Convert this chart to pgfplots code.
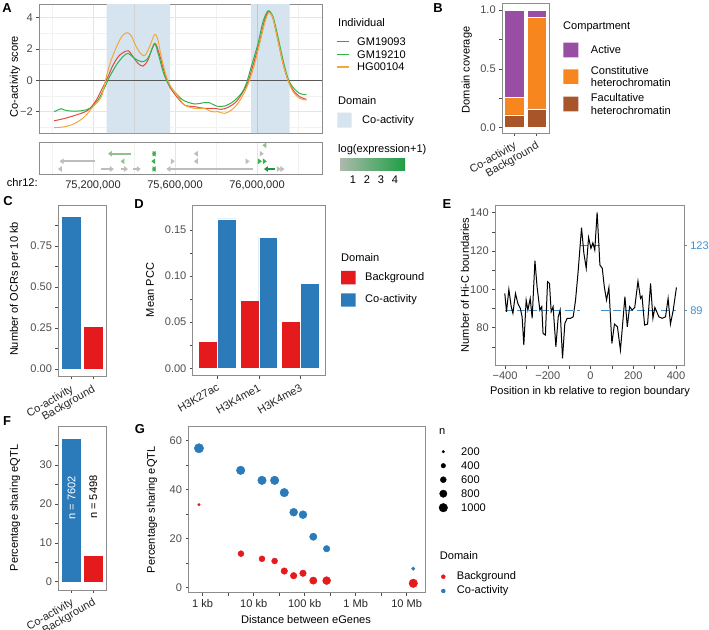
\documentclass[border=0pt]{standalone}
\usepackage{pgfplots}
\pgfplotsset{compat=1.18}
\usepackage{fontspec}
\setmainfont{Liberation Sans}
\usetikzlibrary{arrows.meta}
\definecolor{cred}{HTML}{E41A1C}
\definecolor{cblue}{HTML}{2B7BBA}
\definecolor{lred}{HTML}{E8473E}
\definecolor{lgreen}{HTML}{2EB34B}
\definecolor{lorange}{HTML}{F2A93B}
\definecolor{dshade}{RGB}{214,228,240}
\definecolor{cpurple}{HTML}{984EA3}
\definecolor{corange}{HTML}{F7861E}
\definecolor{cbrown}{HTML}{A8552A}
\definecolor{ggray}{HTML}{BDBDBD}
\definecolor{ggreenl}{HTML}{90C290}
\definecolor{ggreen}{HTML}{3DB04F}
\definecolor{ggreend}{HTML}{1E9640}
\definecolor{eblue}{HTML}{3D8FD1}
\definecolor{axgray}{HTML}{8C8C8C}
\definecolor{tkgray}{HTML}{4D4D4D}
\definecolor{lblgray}{HTML}{4D4D4D}
\newcommand\fs{\fontsize{11.1}{12.3}\selectfont}
\newcommand\fb{\fontsize{13}{14}\selectfont\bfseries}
\pgfplotsset{panel/.style={
  scale only axis, anchor=north west,
  axis line style={draw=axgray, line width=0.6bp},
  tick style={draw=tkgray, line width=0.5bp},
  major tick length=2.8bp, minor tick length=2.8bp,
  tick align=outside, xtick pos=left, ytick pos=left,
  ticklabel style={font=\fs, text=lblgray},
  /pgf/number format/assume math mode=true,
}}
\begin{document}
\begin{tikzpicture}
\path[use as bounding box] (0,0) rectangle (709bp,-630bp);
% ---------------- A main
\begin{axis}[panel, at={(39bp,-4bp)}, width=283bp, height=129bp,
  xmin=74.9366, xmax=76.317, ymin=-3.36, ymax=4.874,
  xtick={75.2,75.6,76.0}, xticklabels={}, minor xtick={75.0,75.4,75.8,76.2},
  ytick={-2,0,2,4}, yticklabels={−2,0,2,4}, minor ytick={-3,-1,1,3},
  grid=both, major grid style={draw=gray!20, line width=0.5bp}, minor grid style={draw=gray!10, line width=0.4bp},
  xtick style={draw=none}, minor tick length=0bp]
\addplot[draw=none, fill=dshade] coordinates {(75.2668,-3.36)(75.5756,-3.36)(75.5756,4.874)(75.2668,4.874)(75.2668,-3.36)};
\addplot[draw=none, fill=dshade] coordinates {(75.9707,-3.36)(76.1595,-3.36)(76.1595,4.874)(75.9707,4.874)(75.9707,-3.36)};
\addplot[gray!35, line width=0.4bp] coordinates {(75.4,-3.36)(75.4,4.874)};
\addplot[gray!45, line width=0.5bp] coordinates {(76.0,-3.36)(76.0,4.874)};
\addplot[black!65, line width=0.7bp] coordinates {(74.9,0)(76.4,0)};
\addplot[lred, line width=1bp, smooth, tension=0.5] coordinates {
(75.01,-2.58) (75.062,-2.43) (75.127,-2.17) (75.176,-1.90) (75.216,-1.26) (75.249,-0.41) (75.273,0.23) (75.298,0.98) (75.330,1.61) (75.371,1.89) (75.395,1.51) (75.420,1.08) (75.444,0.91) (75.468,1.30) (75.501,2.36) (75.525,1.61) (75.550,0.44) (75.574,-0.41) (75.615,-1.15) (75.647,-1.58) (75.696,-1.68) (75.745,-1.79) (75.794,-1.79) (75.826,-1.85) (75.859,-1.72) (75.899,-1.36) (75.932,-0.73) (75.956,-0.09) (75.981,0.98) (76.013,2.47) (76.037,3.85) (76.057,4.38) (76.078,3.95) (76.102,2.57) (76.127,1.08) (76.151,0.02) (76.176,-0.62) (76.208,-1.04) (76.241,-1.21)};
\addplot[lgreen, line width=1bp, smooth, tension=0.5] coordinates {
(75.01,-2.0) (75.046,-1.81) (75.062,-1.90) (75.094,-1.96) (75.143,-1.94) (75.184,-1.79) (75.224,-1.26) (75.257,-0.45) (75.281,0.23) (75.314,0.98) (75.346,1.51) (75.371,1.72) (75.403,1.40) (75.436,1.19) (75.460,1.30) (75.476,1.61) (75.501,2.32) (75.520,1.61) (75.542,0.55) (75.566,-0.19) (75.598,-0.73) (75.639,-1.26) (75.696,-1.51) (75.737,-1.43) (75.769,-1.43) (75.802,-1.64) (75.842,-1.64) (75.883,-1.36) (75.924,-0.83) (75.948,-0.19) (75.972,0.87) (76.005,2.36) (76.029,3.74) (76.054,4.44) (76.078,4.06) (76.102,2.79) (76.127,1.30) (76.151,0.13) (76.176,-0.45) (76.208,-0.83) (76.241,-0.92)};
\addplot[lorange, line width=1bp, smooth, tension=0.5] coordinates {
(75.01,-3.02) (75.062,-2.96) (75.111,-2.75) (75.159,-2.32) (75.2,-1.68) (75.241,-1.04) (75.265,0.23) (75.289,1.30) (75.322,2.36) (75.346,2.89) (75.368,3.04) (75.387,2.83) (75.411,2.15) (75.436,1.66) (75.455,1.61) (75.476,2.15) (75.501,2.93) (75.517,2.57) (75.533,1.51) (75.558,0.23) (75.582,-0.45) (75.615,-1.04) (75.647,-1.58) (75.696,-1.79) (75.745,-1.79) (75.777,-2.0) (75.810,-2.0) (75.842,-2.11) (75.875,-1.90) (75.907,-1.47) (75.940,-0.73) (75.964,0.02) (75.989,1.08) (76.013,2.36) (76.037,3.64) (76.057,4.32) (76.078,3.95) (76.102,2.57) (76.127,1.08) (76.151,0.02) (76.176,-0.73) (76.208,-1.15) (76.241,-1.26)};
\end{axis}
% ---------------- A gene track
\begin{axis}[panel, at={(39bp,-142bp)}, width=283bp, height=32bp,
  xmin=74.9366, xmax=76.317, ymin=0, ymax=32,
  xtick={75.2,75.6,76.0}, xticklabels={{75,200,000},{75,600,000},{76,000,000}},
  minor xtick={75.0,75.4,75.8,76.2}, ytick=\empty,
  xmajorgrids, xminorgrids, major grid style={draw=gray!20, line width=0.5bp}, minor grid style={draw=gray!10, line width=0.4bp},
  xtick style={draw=none}, xticklabel style={text=black!85}]
\pgfplotsset{gene/.style={line width=2bp, -{Triangle[length=4bp,width=5.5bp]}}}
% row 1
\addplot[gene, ggreenl] coordinates {(76.038,28.7)(76.026,28.7)};
% row 2
\addplot[gene, ggreenl] coordinates {(75.387,20.3)(75.273,20.3)};
\addplot[gene, ggreen, {Triangle[length=3.5bp,width=5.5bp]}-{Triangle[length=3.5bp,width=5.5bp]}] coordinates {(75.488,20.3)(75.508,20.3)};
\addplot[gene, ggray] coordinates {(75.704,20.3)(75.692,20.3)};
\addplot[gene, ggray] coordinates {(76.021,20.3)(76.033,20.3)};
% row 3
\addplot[gene, ggray] coordinates {(75.208,12.7)(75.037,12.7)};
\addplot[gene, ggreenl] coordinates {(75.346,12.7)(75.334,12.7)};
\addplot[gene, ggreen] coordinates {(75.496,12.7)(75.484,12.7)};
\addplot[gene, ggray] coordinates {(75.587,12.7)(75.599,12.7)};
\addplot[gene, ggray] coordinates {(75.704,12.7)(75.692,12.7)};
\addplot[gene, ggray] coordinates {(75.952,12.7)(75.964,12.7)};
\addplot[gene, ggreen] coordinates {(76.012,12.7)(76.024,12.7)};
\addplot[gene, ggreen] coordinates {(76.036,12.7)(76.048,12.7)};
% row 4
\addplot[gene, ggray] coordinates {(75.041,5)(75.029,5)};
\addplot[gene, ggray] coordinates {(75.238,5)(75.302,5)};
\addplot[gene, ggray] coordinates {(75.338,5)(75.371,5)};
\addplot[gene, ggray] coordinates {(75.395,5)(75.433,5)};
\addplot[gene, ggreen, {Triangle[length=3.5bp,width=5.5bp]}-{Triangle[length=3.5bp,width=5.5bp]}] coordinates {(75.488,5)(75.508,5)};
\addplot[gene, ggray] coordinates {(75.980,5)(75.558,5)};
\addplot[gene, ggreend] coordinates {(76.086,5)(76.034,5)};
\addplot[gene, ggray] coordinates {(76.104,5)(76.116,5)};
\addplot[gene, ggray] coordinates {(76.122,5)(76.134,5)};
\end{axis}
% ---------------- B
\begin{axis}[panel, at={(502bp,-3.3bp)}, width=47bp, height=130bp,
  xmin=0.45, xmax=2.55, ymin=-0.048, ymax=1.057,
  ybar stacked, bar width=0.86,
  xtick={1,2}, xticklabels={Co-activity,Background}, xticklabel style={rotate=30, anchor=north east, text=black!85},
  ytick={0,0.5,1}, yticklabels={0.0,0.5,1.0}, minor ytick={0.25,0.75}]
\addplot[fill=cbrown, draw=white, line width=0.4bp] coordinates {(1,0.108)(2,0.161)};
\addplot[fill=corange, draw=white, line width=0.4bp] coordinates {(1,0.150)(2,0.774)};
\addplot[fill=cpurple, draw=white, line width=0.4bp] coordinates {(1,0.742)(2,0.065)};
\end{axis}
% ---------------- C
\begin{axis}[panel, at={(58.3bp,-205bp)}, width=47.7bp, height=171.7bp,
  xmin=0.4, xmax=2.6, ymin=-0.047, ymax=0.998,
  ybar, bar width=0.9,
  xtick={1,2}, xticklabels={Co-activity,Background}, xticklabel style={rotate=30, anchor=north east, text=black!85},
  ytick={0,0.25,0.5,0.75}, yticklabels={0.00,0.25,0.50,0.75}, minor ytick={0.125,0.375,0.625,0.875}]
\addplot[fill=cblue, draw=white, line width=0.4bp, bar shift=0pt] coordinates {(1,0.932)};
\addplot[fill=cred, draw=white, line width=0.4bp, bar shift=0pt] coordinates {(2,0.263)};
\end{axis}
% ---------------- D
\begin{axis}[panel, at={(192.7bp,-205bp)}, width=132.3bp, height=170.7bp,
  xmin=0.406, xmax=3.594, ymin=-0.008, ymax=0.177,
  ybar, bar width=0.45,
  xtick={1,2,3}, xticklabels={H3K27ac,H3K4me1,H3K4me3}, xticklabel style={rotate=30, anchor=north east, text=black!85},
  ytick={0,0.05,0.1,0.15}, yticklabels={0.00,0.05,0.10,0.15}, minor ytick={0.025,0.075,0.125}]
\addplot[fill=cred, draw=white, line width=0.4bp, bar shift=0pt] coordinates {(0.775,0.029)(1.775,0.074)(2.775,0.051)};
\addplot[fill=cblue, draw=white, line width=0.4bp, bar shift=0pt] coordinates {(1.225,0.162)(2.225,0.142)(3.225,0.092)};
\end{axis}
% ---------------- E
\begin{axis}[panel, at={(495bp,-205bp)}, width=189bp, height=160.7bp,
  xmin=-446.8, xmax=437.4, ymin=60.2, ymax=144,
  xtick={-400,-200,0,200,400}, xticklabels={−400,−200,0,200,400}, minor xtick={-300,-100,100,300},
  ytick={80,100,120,140}, minor ytick={70,90,110,130}]
\addplot[eblue, line width=1bp, dash pattern=on 8bp off 4bp] coordinates {(-400,89)(-50,89)};
\addplot[eblue, line width=1bp, dash pattern=on 8bp off 4bp] coordinates {(50,89)(400,89)};
\addplot[eblue, line width=1bp, dash pattern=on 8bp off 4bp] coordinates {(-50,123)(50,123)};
\addplot[black, line width=1bp] table {
x y
-401 97.9
-393 88.3
-382 100
-371 91
-363 87.5
-351 97.9
-340 92.7
-328 90
-320 85.7
-312 71
-301 94.4
-293 89.2
-282 95.3
-273 84.9
-260 115
-250 101.4
-237 89.2
-228 91
-222 77
-211 76.2
-201 104
-192 103.1
-184 88.3
-175 91
-162 70.1
-151 85.7
-142 89.2
-131 64
-120 82.3
-109 84.9
-94 84.9
-81 85.7
-70 94.4
-58 109.2
-42 132.2
-31 118.8
-20 111
-9 127.1
2 121.4
11 124.3
20 120.5
31 140.2
44 112.7
55 111
65 101
75 94.4
86 101
100 71.8
112 81.9
126 80.5
140 68.3
161 96.2
172 80.5
183 91
195 89.2
207 90.6
222 104.3
234 95.3
241 96.5
253 81.4
267 81.9
281 103.1
292 84.9
301 90.6
320 85.7
335 84.9
351 85.7
363 95.3
374 81.9
387 89.2
402 101
};
\end{axis}
\begin{axis}[panel, at={(495bp,-205bp)}, width=189bp, height=160.7bp,
  xmin=-446.8, xmax=437.4, ymin=60.2, ymax=144,
  hide x axis, axis y line*=right, ytick pos=right, ytick={89,123},
  tick style={draw=eblue, line width=0.6bp}, yticklabel style={text=eblue}]
\end{axis}
% ---------------- F
\begin{axis}[panel, at={(58.3bp,-426.7bp)}, width=48.3bp, height=163.3bp,
  xmin=0.4, xmax=2.6, ymin=-2.13, ymax=39.8,
  ybar, bar width=0.9,
  xtick={1,2}, xticklabels={Co-activity,Background}, xticklabel style={rotate=30, anchor=north east, text=black!85},
  ytick={0,10,20,30}, minor ytick={5,15,25,35}]
\addplot[fill=cblue, draw=white, line width=0.4bp, bar shift=0pt] coordinates {(1,36.9)};
\addplot[fill=cred, draw=white, line width=0.4bp, bar shift=0pt] coordinates {(2,6.86)};
\node[rotate=90, text=white, font=\fs] at (axis cs:1,21.5) {n = 7602};
\node[rotate=90, text=black, font=\fs] at (axis cs:2,21.7) {n = 5498};
\end{axis}
% ---------------- G
\begin{axis}[panel, at={(188.3bp,-426.7bp)}, width=236.7bp, height=166bp,
  xmin=2.718, xmax=7.36, ymin=-2.04, ymax=65.7,
  xtick={3,4,5,6,7}, xticklabels={1 kb,10 kb,100 kb,1 Mb,10 Mb}, minor xtick={3.5,4.5,5.5,6.5},
  xticklabel style={text=black!85},
  ytick={0,20,40,60}, minor ytick={10,30,50}]
\addplot[only marks, mark=*, scatter, scatter/use mapped color={draw=cblue, fill=cblue},
  visualization depends on={\thisrow{r} \as \rr},
  scatter/@pre marker code/.append style={/tikz/mark size=\rr}] table {
x y r
2.927 56.9 4.7
3.745 47.9 4.3
4.163 43.8 4.3
4.411 43.8 4.3
4.600 38.8 4.3
4.784 30.8 4.0
4.967 29.8 4.0
5.169 20.8 3.7
5.431 15.9 3.3
7.130 7.8 1.7
};
\addplot[only marks, mark=*, scatter, scatter/use mapped color={draw=cred, fill=cred},
  visualization depends on={\thisrow{r} \as \rr},
  scatter/@pre marker code/.append style={/tikz/mark size=\rr}] table {
x y r
2.927 33.9 1.3
3.751 13.9 3.0
4.163 11.8 3.0
4.411 10.9 3.0
4.600 6.8 3.3
4.784 4.9 3.3
4.967 5.9 3.3
5.169 2.9 3.7
5.431 2.9 4.0
7.130 1.8 4.3
};
\end{axis}
% ---------------- legends canvas
\begin{axis}[at={(0bp,0bp)}, anchor=north west, scale only axis, width=709bp, height=630bp,
  xmin=0, xmax=709, ymin=-630, ymax=0, hide axis, clip=false]
% A individual
\addplot[lred, line width=1.1bp] coordinates {(336.7,-41.7)(349,-41.7)};
\addplot[lgreen, line width=1.1bp] coordinates {(336.7,-54.3)(349,-54.3)};
\addplot[lorange, line width=1.1bp] coordinates {(336.7,-67)(349,-67)};
\addplot[draw=none, fill=dshade] coordinates {(337.3,-112.7)(351.7,-112.7)(351.7,-127.7)(337.3,-127.7)(337.3,-112.7)};
% B compartment
\addplot[draw=none, fill=cpurple] coordinates {(563.3,-42.7)(578.3,-42.7)(578.3,-57.3)(563.3,-57.3)(563.3,-42.7)};
\addplot[draw=none, fill=corange] coordinates {(563.3,-69.3)(578.3,-69.3)(578.3,-84)(563.3,-84)(563.3,-69.3)};
\addplot[draw=none, fill=cbrown] coordinates {(563.3,-96.7)(578.3,-96.7)(578.3,-111.3)(563.3,-111.3)(563.3,-96.7)};
% D domain
\addplot[draw=none, fill=cred] coordinates {(341,-271)(355.7,-271)(355.7,-284.3)(341,-284.3)(341,-271)};
\addplot[draw=none, fill=cblue] coordinates {(341,-293.3)(355.7,-293.3)(355.7,-306.7)(341,-306.7)(341,-293.3)};
% G n legend
\addplot[only marks, mark=*, black, mark size=1.3] coordinates {(443.3,-451.7)};
\addplot[only marks, mark=*, black, mark size=2.3] coordinates {(443.3,-465.7)};
\addplot[only marks, mark=*, black, mark size=3.0] coordinates {(443.3,-479.7)};
\addplot[only marks, mark=*, black, mark size=3.7] coordinates {(443.3,-493.7)};
\addplot[only marks, mark=*, black, mark size=4.3] coordinates {(443.3,-507.7)};
\addplot[only marks, mark=*, cred, mark size=2] coordinates {(443.3,-576.7)};
\addplot[only marks, mark=*, cblue, mark size=2] coordinates {(443.3,-591)};
\end{axis}
% colorbar
\shade[left color={rgb,255:red,172;green,186;blue,172}, right color={rgb,255:red,30;green,158;blue,68}] (340bp,-158.3bp) rectangle (405bp,-170.7bp);
% ---------------- texts
\begin{scope}[every node/.style={font=\fs, inner sep=0pt}]
\node[anchor=west] at (6.7bp,-183bp) {chr12:};
\node[rotate=90] at (15bp,-76.7bp) {Co-activity score};
\node[anchor=west] at (338bp,-23bp) {Individual};
\node[anchor=west] at (357bp,-41.7bp) {GM19093};
\node[anchor=west] at (357bp,-54.3bp) {GM19210};
\node[anchor=west] at (357bp,-67bp) {HG00104};
\node[anchor=west] at (338bp,-101bp) {Domain};
\node[anchor=west] at (362bp,-121bp) {Co-activity};
\node[anchor=west] at (338bp,-150bp) {log(expression+1)};
\node at (353bp,-180bp) {1};
\node at (367bp,-180bp) {2};
\node at (381bp,-180bp) {3};
\node at (395bp,-180bp) {4};
\node[rotate=90] at (466.7bp,-70bp) {Domain coverage};
\node[anchor=west] at (563bp,-27bp) {Compartment};
\node[anchor=west] at (590.7bp,-50bp) {Active};
\node[anchor=west, align=left] at (590.7bp,-76.7bp) {Constitutive\\heterochromatin};
\node[anchor=west, align=left] at (590.7bp,-104bp) {Facultative\\heterochromatin};
\node[rotate=90] at (15bp,-289bp) {Number of OCRs per 10 kb};
\node[rotate=90] at (150bp,-290bp) {Mean PCC};
\node[anchor=west] at (341bp,-257.3bp) {Domain};
\node[anchor=west] at (365bp,-278bp) {Background};
\node[anchor=west] at (365bp,-300bp) {Co-activity};
\node[rotate=90] at (465bp,-285bp) {Number of Hi-C boundaries};
\node at (590bp,-391.7bp) {Position in kb relative to region boundary};
\node[rotate=90] at (15bp,-508bp) {Percentage sharing eQTL};
\node[rotate=90] at (152bp,-509.7bp) {Percentage sharing eQTL};
\node at (306bp,-619.3bp) {Distance between eGenes};
\node[anchor=west] at (439bp,-431.7bp) {n};
\node[anchor=west] at (461bp,-451.7bp) {200};
\node[anchor=west] at (461bp,-465.7bp) {400};
\node[anchor=west] at (461bp,-479.7bp) {600};
\node[anchor=west] at (461bp,-493.7bp) {800};
\node[anchor=west] at (461bp,-507.7bp) {1000};
\node[anchor=west] at (439.7bp,-555.7bp) {Domain};
\node[anchor=west] at (456.7bp,-576.7bp) {Background};
\node[anchor=west] at (456.7bp,-591bp) {Co-activity};
\end{scope}
\begin{scope}[every node/.style={font=\fb, inner sep=0pt}]
\node at (7bp,-8bp) {A};
\node at (438bp,-8bp) {B};
\node at (8bp,-201bp) {C};
\node at (139bp,-204bp) {D};
\node at (447bp,-204bp) {E};
\node at (7bp,-421bp) {F};
\node at (140bp,-429bp) {G};
\end{scope}
\end{tikzpicture}
\end{document}
